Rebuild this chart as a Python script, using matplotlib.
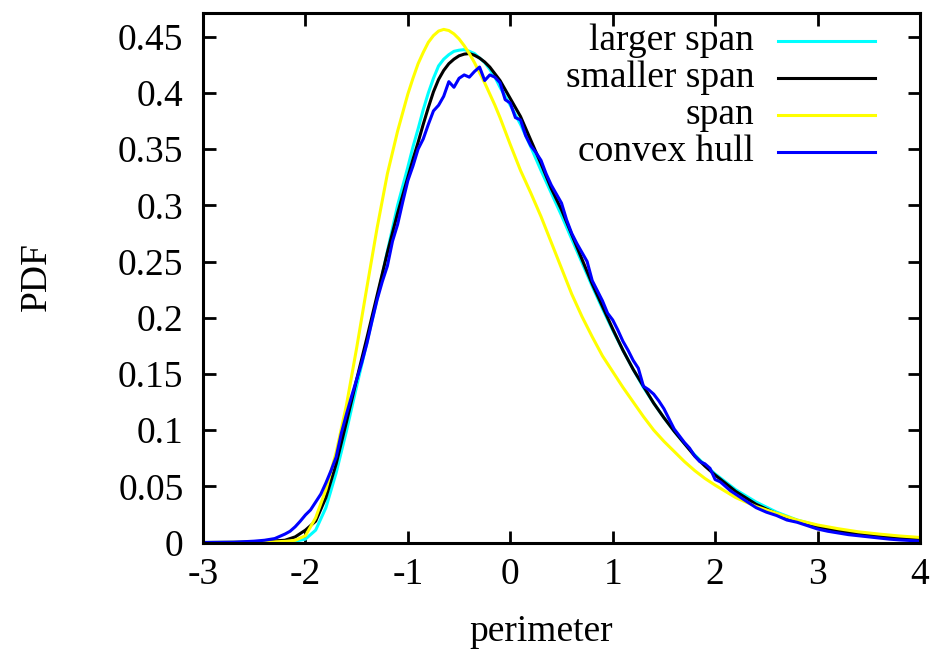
import matplotlib
matplotlib.use("Agg")
import matplotlib.pyplot as plt
from matplotlib.lines import Line2D

# ---- data ----
x_smooth = [-3.0, -2.6, -2.4, -2.2, -2.1, -2.0, -1.9, -1.8, -1.7, -1.6, -1.5, -1.4,
            -1.3, -1.2, -1.1, -1.0, -0.95, -0.9, -0.85, -0.8, -0.75, -0.7, -0.65,
            -0.6, -0.55, -0.5, -0.45, -0.4, -0.35, -0.3, -0.25, -0.2, -0.15, -0.1,
            -0.05, 0.0, 0.1, 0.2, 0.3, 0.4, 0.5, 0.6, 0.7, 0.8, 0.9, 1.0, 1.1, 1.2,
            1.3, 1.4, 1.5, 1.6, 1.7, 1.8, 1.9, 2.0, 2.2, 2.4, 2.6, 2.8, 3.0, 3.2,
            3.4, 3.6, 3.8, 4.0]

larger_span = [0.0, 0.0001, 0.0002, 0.0005, 0.0012, 0.003, 0.011, 0.031, 0.062, 0.099,
               0.139, 0.178, 0.217, 0.259, 0.300, 0.334,
               0.352, 0.368, 0.385, 0.400, 0.413, 0.424, 0.430, 0.434, 0.437, 0.438,
               0.4385, 0.437, 0.435, 0.431, 0.427, 0.421, 0.414, 0.405, 0.397, 0.389,
               0.372, 0.352, 0.331, 0.311, 0.291, 0.270, 0.249, 0.228, 0.208, 0.189,
               0.171, 0.154, 0.138, 0.124, 0.111, 0.099, 0.088, 0.078, 0.069, 0.061,
               0.047, 0.036, 0.027, 0.020, 0.015, 0.011, 0.0082, 0.006, 0.0045, 0.0033]

smaller_span = [0.0, 0.0003, 0.0008, 0.002, 0.005, 0.011, 0.019, 0.040, 0.070, 0.107,
                0.145, 0.182, 0.220, 0.258, 0.293, 0.325,
                0.341, 0.356, 0.372, 0.387, 0.401, 0.412, 0.420, 0.426, 0.430, 0.433,
                0.4345, 0.435, 0.4335, 0.431, 0.4275, 0.423, 0.417, 0.411, 0.403, 0.395,
                0.379, 0.358, 0.337, 0.315, 0.296, 0.274, 0.252, 0.230, 0.210, 0.190,
                0.171, 0.154, 0.139, 0.124, 0.111, 0.099, 0.088, 0.077, 0.068, 0.060,
                0.0455, 0.034, 0.0255, 0.0195, 0.014, 0.0105, 0.0077, 0.0057, 0.0043,
                0.0032]

span = [0.0, 0.0, 0.0002, 0.001, 0.002, 0.006, 0.022, 0.047, 0.080, 0.122, 0.173,
        0.227, 0.280, 0.328, 0.366, 0.399,
        0.413, 0.426, 0.436, 0.445, 0.451, 0.455, 0.4565, 0.4555, 0.4525, 0.448,
        0.442, 0.435, 0.427, 0.418, 0.409, 0.399, 0.389, 0.378, 0.366, 0.354,
        0.331, 0.311, 0.290, 0.267, 0.244, 0.221, 0.201, 0.183, 0.166, 0.152,
        0.138, 0.125, 0.112, 0.100, 0.090, 0.081, 0.072, 0.064, 0.057, 0.051,
        0.040, 0.032, 0.026, 0.020, 0.0156, 0.0123, 0.0095, 0.0075, 0.0058, 0.0045]

x_hull = [-3.0, -2.7, -2.5, -2.4, -2.3, -2.25, -2.2, -2.15, -2.1, -2.05, -2.0, -1.95,
          -1.9, -1.85, -1.8, -1.75, -1.7, -1.65, -1.6, -1.55, -1.5, -1.45, -1.4, -1.35,
          -1.3, -1.25, -1.2, -1.15, -1.1, -1.05, -1.0, -0.95, -0.9, -0.85, -0.8, -0.75,
          -0.7, -0.65, -0.6, -0.55, -0.5, -0.45, -0.4, -0.35, -0.3, -0.25, -0.2, -0.15,
          -0.1, -0.05, 0.0, 0.05, 0.1, 0.15, 0.2, 0.25, 0.3, 0.35, 0.4, 0.45, 0.5, 0.55,
          0.6, 0.65, 0.7, 0.75, 0.8, 0.85, 0.9, 0.95, 1.0, 1.05, 1.1, 1.15, 1.2, 1.25,
          1.3, 1.35, 1.4, 1.45, 1.5, 1.55, 1.6, 1.65, 1.7, 1.75, 1.8, 1.85, 1.9, 1.95,
          2.0, 2.05, 2.1, 2.15, 2.2, 2.25, 2.3, 2.35, 2.4, 2.5, 2.6, 2.7, 2.8, 2.9, 3.0,
          3.1, 3.2, 3.3, 3.4, 3.5, 3.6, 3.7, 3.8, 3.9, 4.0]

convex_hull = [0.0, 0.0002, 0.0012, 0.002, 0.0035, 0.0055, 0.0075, 0.010, 0.014, 0.019,
               0.0245, 0.029, 0.036, 0.043, 0.053, 0.064, 0.076, 0.097, 0.114, 0.130,
               0.145, 0.160, 0.177, 0.197, 0.216, 0.232, 0.246, 0.268, 0.283, 0.303,
               0.322, 0.335, 0.350, 0.359, 0.372, 0.384, 0.389, 0.397, 0.410, 0.405,
               0.413, 0.416, 0.414, 0.419, 0.423, 0.411, 0.416, 0.414, 0.409, 0.394,
               0.391, 0.378, 0.376, 0.362, 0.353, 0.347, 0.340, 0.328, 0.318, 0.310,
               0.302, 0.287, 0.275, 0.266, 0.258, 0.250, 0.233, 0.224, 0.215, 0.204,
               0.198, 0.189, 0.179, 0.171, 0.162, 0.155, 0.139, 0.136, 0.132, 0.126,
               0.119, 0.110, 0.101, 0.095, 0.089, 0.084, 0.077, 0.072, 0.070, 0.066,
               0.056, 0.054, 0.050, 0.046, 0.043, 0.040, 0.037, 0.034, 0.031, 0.027,
               0.024, 0.020, 0.018, 0.015, 0.012, 0.010, 0.0085, 0.007, 0.006, 0.005,
               0.004, 0.003, 0.0023, 0.0018, 0.0013]

series_labels = ["larger span", "smaller span", "span", "convex hull"]
series_colors = ["#00ffff", "#000000", "#ffff00", "#0000ff"]

x_ticks = [-3, -2, -1, 0, 1, 2, 3, 4]
x_ticklabels = ["-3", "-2", "-1", "0", "1", "2", "3", "4"]
y_ticks = [0, 0.05, 0.1, 0.15, 0.2, 0.25, 0.3, 0.35, 0.4, 0.45]
y_ticklabels = ["0", "0.05", "0.1", "0.15", "0.2", "0.25", "0.3", "0.35", "0.4", "0.45"]

# ---- figure ----
plt.rcParams['font.family'] = ['Liberation Serif', 'DejaVu Serif']
FS = 27
W, H = 936, 659

fig = plt.figure(figsize=(W / 100, H / 100), dpi=100)
ax = fig.add_axes([203 / W, 1 - 542.5 / H, 717 / W, 530 / H])

xs = [x_smooth, x_smooth, x_smooth, x_hull]
ys = [larger_span, smaller_span, span, convex_hull]
for xv, yv, c in zip(xs, ys, series_colors):
    ax.plot(xv, yv, color=c, lw=2.2, solid_joinstyle='round')

ax.set_xlim(-3, 4)
ax.set_ylim(0, 530 / 1124)
ax.set_xticks(x_ticks)
ax.set_xticklabels(x_ticklabels)
ax.set_yticks(y_ticks)
ax.set_yticklabels(y_ticklabels)
ax.tick_params(direction='in', length=9, width=2, top=True, right=True,
               labelsize=FS)
ax.tick_params(axis='x', pad=11)
ax.tick_params(axis='y', pad=14)
for s in ax.spines.values():
    s.set_linewidth(2.2)

fig.text(541 / W, 1 - 632 / H, "perimeter", fontsize=FS, ha='center', va='center')
fig.text(37 / W, 1 - 277 / H, "PDF", fontsize=FS, ha='center', va='center',
         rotation=90)

# key (gnuplot style: right-aligned text, sample line to its right)
row_y = [40.7, 78, 115, 152]
for lab, c, py in zip(series_labels, series_colors, row_y):
    yf = (542.5 - py) / 530
    ax.text((754 - 203) / 717, yf, lab, transform=ax.transAxes, ha='right',
            va='center', fontsize=FS)
    ax.add_line(Line2D([(778 - 203) / 717, (875 - 203) / 717], [yf, yf],
                       transform=ax.transAxes, color=c, lw=2.2))

fig.savefig("out.png", dpi=100)
